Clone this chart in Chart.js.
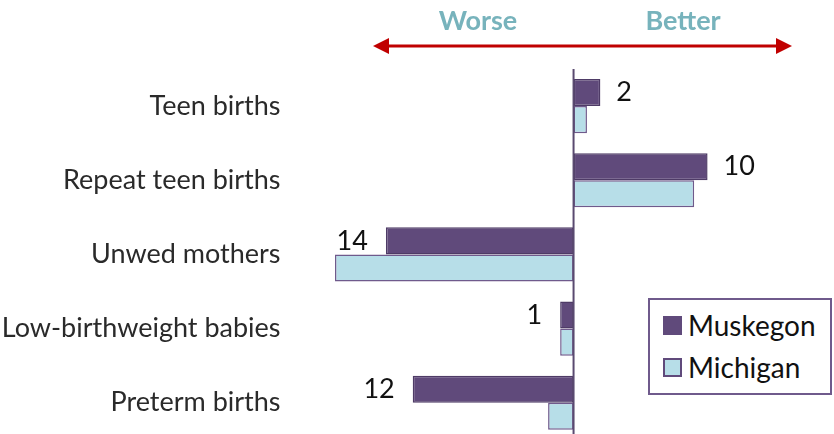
<!DOCTYPE html>
<html>
<head>
<meta charset="utf-8">
<script src="https://cdn.jsdelivr.net/npm/chart.js@4/dist/chart.umd.min.js"></script>
<style>
    html, body { margin: 0; padding: 0; background: #fff; overflow: hidden; }
    /* taller than the window: tick padding reserves space below the plot, which is cropped */
    #wrap { position: relative; width: 834px; height: 481px; }
    #legend {
        position: absolute; left: 648px; top: 298px; width: 180px; height: 93px;
        border: 2px solid #6f5a8c; background: #fff;
        font-family: Lato, sans-serif; font-size: 28px; color: #111;
    }
    .item { position: absolute; left: 13px; display: flex; align-items: center; }
    .swatch { width: 19px; height: 19px; margin-right: 6px; box-sizing: border-box; border: 2px solid #604a7b; }
</style>
</head>
<body>
<div id="wrap">
    <canvas id="chart"></canvas>
    <div id="legend"></div>
</div>
<script>
    // --- Data ---
    const categories = ['Teen births', 'Repeat teen births', 'Unwed mothers', 'Low-birthweight babies', 'Preterm births'];
    const muskegonValues = [2, 10, -14, -1, -12];
    const michiganValues = [1, 9, -17.8, -1, -1.9];
    const seriesNames = ['Muskegon', 'Michigan'];
    const directionLabels = ['Worse', 'Better'];

    const purple = '#604a7b';
    const lightBlue = '#b7dee8';

    // Worse/Better header with red double arrow
    const headerPlugin = {
        id: 'header',
        afterDraw(chart) {
            const ctx = chart.ctx;
            ctx.save();
            ctx.fillStyle = '#77b3bc';
            ctx.font = 'bold 27px Lato, sans-serif';
            ctx.textAlign = 'center';
            ctx.textBaseline = 'middle';
            ctx.fillText(directionLabels[0], 478, 21);
            ctx.fillText(directionLabels[1], 683, 21);

            const y = 46, x1 = 373, x2 = 792;
            ctx.strokeStyle = '#c00000';
            ctx.fillStyle = '#c00000';
            ctx.lineWidth = 3;
            ctx.beginPath();
            ctx.moveTo(x1 + 10, y);
            ctx.lineTo(x2 - 10, y);
            ctx.stroke();
            ctx.beginPath();
            ctx.moveTo(x1, y); ctx.lineTo(x1 + 16, y - 8); ctx.lineTo(x1 + 16, y + 8); ctx.closePath();
            ctx.fill();
            ctx.beginPath();
            ctx.moveTo(x2, y); ctx.lineTo(x2 - 16, y - 8); ctx.lineTo(x2 - 16, y + 8); ctx.closePath();
            ctx.fill();
            ctx.restore();
        }
    };

    // Vertical zero axis line
    const zeroLinePlugin = {
        id: 'zeroLine',
        afterDatasetsDraw(chart) {
            const ctx = chart.ctx;
            const x = chart.scales.x.getPixelForValue(0);
            ctx.save();
            ctx.strokeStyle = '#5a4a70';
            ctx.lineWidth = 2;
            ctx.beginPath();
            ctx.moveTo(x, chart.chartArea.top);
            ctx.lineTo(x, chart.chartArea.bottom);
            ctx.stroke();
            ctx.restore();
        }
    };

    // Value labels for the Muskegon bars
    const valueLabelPlugin = {
        id: 'valueLabels',
        afterDatasetsDraw(chart) {
            const ctx = chart.ctx;
            const meta = chart.getDatasetMeta(0);
            ctx.save();
            ctx.fillStyle = '#111';
            ctx.font = '27px Lato, sans-serif';
            ctx.textBaseline = 'middle';
            meta.data.forEach((bar, i) => {
                const v = muskegonValues[i];
                if (v >= 0) {
                    ctx.textAlign = 'left';
                    ctx.fillText(String(Math.abs(v)), bar.x + 16, bar.y);
                } else {
                    ctx.textAlign = 'right';
                    ctx.fillText(String(Math.abs(v)), bar.x - 18, bar.y);
                }
            });
            ctx.restore();
        }
    };

    const chart = new Chart(document.getElementById('chart'), {
        type: 'bar',
        data: {
            labels: categories,
            datasets: [{
                label: seriesNames[0],
                data: muskegonValues,
                backgroundColor: purple,
                borderColor: '#4e3b66',
                borderWidth: 1.5,
                borderSkipped: false
            }, {
                label: seriesNames[1],
                data: michiganValues,
                backgroundColor: lightBlue,
                borderColor: '#6f5a8c',
                borderWidth: 1.5,
                borderSkipped: false
            }]
        },
        options: {
            indexAxis: 'y',
            responsive: true,
            maintainAspectRatio: false,
            animation: false,
            datasets: { bar: { categoryPercentage: 0.73, barPercentage: 1 } },
            layout: { padding: { top: 69, right: 46, bottom: 2, left: 0 } },
            scales: {
                x: {
                    display: false,
                    min: -20,
                    max: 16
                },
                y: {
                    afterFit: scale => { scale.width = 305.5; },
                    border: { display: false },
                    grid: { display: false, drawTicks: false },
                    ticks: {
                        padding: 25,
                        color: '#2a2a2a',
                        font: { family: 'Lato, sans-serif', size: 27 }
                    }
                }
            },
            plugins: {
                legend: { display: false },
                tooltip: { enabled: false }
            }
        },
        plugins: [headerPlugin, zeroLinePlugin, valueLabelPlugin]
    });

    // --- HTML legend built from the datasets ---
    const legendEl = document.getElementById('legend');
    chart.data.datasets.forEach((ds, i) => {
        const item = document.createElement('div');
        item.className = 'item';
        item.style.top = (i === 0 ? 8 : 50) + 'px';
        item.innerHTML = `<span class="swatch" style="background:${ds.backgroundColor}"></span><span>${ds.label}</span>`;
        legendEl.appendChild(item);
    });
</script>
</body>
</html>
